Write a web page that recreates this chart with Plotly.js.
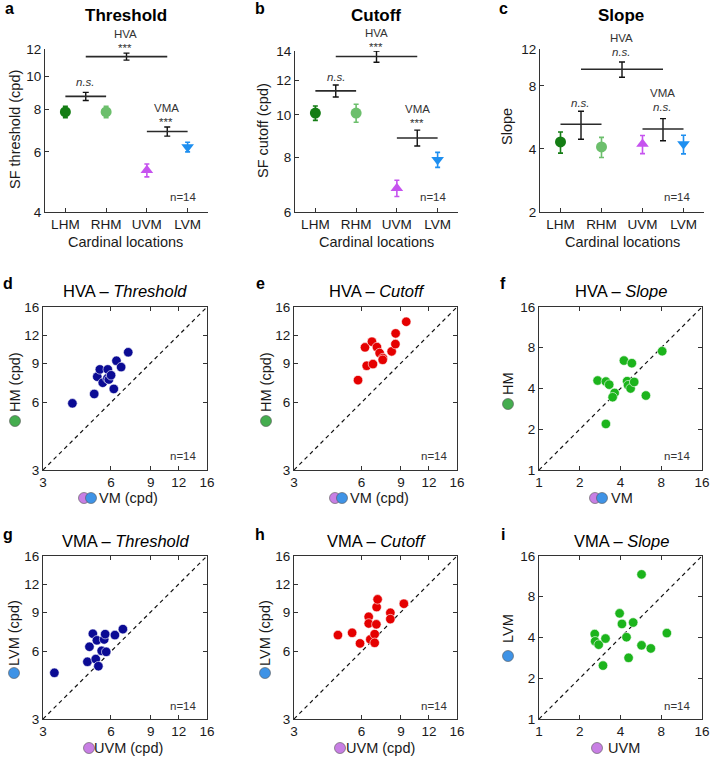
<!DOCTYPE html>
<html><head><meta charset="utf-8">
<script src="https://cdn.plot.ly/plotly-3.0.1.min.js"></script>
<style>html,body{margin:0;padding:0;background:#fff}#chart{width:720px;height:763px}</style>
</head><body><div id="chart"></div>
<script>
// ---------- DATA ----------
const categories = ['LHM', 'RHM', 'UVM', 'LVM'];
const catPos = [1, 2, 3, 4];
const thrMean = [7.85, 7.85, 5.3, 6.2];
const thrErr = [0.3, 0.3, 0.23, 0.2];
const cutMean = [10.1, 10.1, 6.8, 7.9];
const cutErr = [0.38, 0.48, 0.29, 0.31];
const slopeMean = [4.32, 4.09, 4.22, 4.22];
const slopeErr = [0.5, 0.45, 0.42, 0.43];

const cmpLabels = ['HVA', 'HM', 'VMA'];
const cmpX = [2.5, 1.5, 3.5];
const cmpHalfWidth = [1, 0.5, 0.5];
const thrCmp = [11.4, 8.72, 6.88];
const thrCmpErr = [0.27, 0.24, 0.21];
const cutCmp = [13.6, 11.35, 8.86];
const cutCmpErr = [0.4, 0.36, 0.37];
const slopeCmp = [9.6, 5.25, 4.98];
const slopeCmpErr = [0.8, 0.8, 0.6];

const thrTicks = [4, 6, 8, 10, 12];
const cutTicks = [6, 8, 10, 12, 14];
const slopeTicks = [2, 4, 8, 12];
const cpdTicks = [3, 6, 9, 12, 16];
const slopeScatTicks = [1, 2, 4, 8, 16];
const diagCpd = [3, 16];
const diagSlope = [1, 16];

// d: HVA threshold (x = VM, y = HM)
const hvaThrVM = [4.05, 5.06, 5.22, 5.36, 5.52, 5.79, 5.88, 5.81, 6.01, 6.18, 6.35, 6.66, 7.16];
const hvaThrHM = [5.95, 6.55, 7.82, 8.43, 7.35, 7.69, 7.6, 8.43, 7.94, 6.9, 9.21, 8.63, 10.05];
// e: HVA cutoff
const hvaCutVM = [5.79, 6.22, 6.33, 6.68, 6.75, 7.03, 7.23, 7.48, 7.46, 8.18, 8.5, 8.52, 9.5];
const hvaCutHM = [7.55, 10.57, 8.75, 11.2, 8.9, 10.6, 9.97, 9.47, 9.3, 10.14, 10.93, 12.2, 13.75];
// f: HVA slope
const hvaSlopeVM = [2.71, 3.12, 3.3, 3.62, 3.5, 3.12, 4.24, 4.85, 4.48, 4.55, 4.75, 5.05, 6.16, 8.13];
const hvaSlopeHM = [4.58, 4.5, 4.27, 3.71, 3.45, 2.19, 6.43, 6.15, 4.53, 4.23, 4.0, 4.47, 3.55, 7.54];
// g: VMA threshold (x = UVM, y = LVM)
const vmaThrUVM = [3.37, 4.72, 5.14, 5.28, 5.46, 4.82, 4.99, 5.2, 5.6, 5.66, 5.72, 6.25, 6.78];
const vmaThrLVM = [4.82, 5.4, 5.55, 5.16, 6.04, 6.3, 7.2, 6.73, 6.79, 7.17, 5.98, 7.1, 7.55];
// h: VMA cutoff
const vmaCutUVM = [4.71, 5.45, 5.91, 6.46, 6.46, 6.57, 6.87, 6.87, 6.99, 7.01, 7.08, 8.07, 8.07, 9.27];
const vmaCutLVM = [7.1, 7.27, 6.52, 8.57, 8.0, 6.79, 7.17, 6.56, 7.93, 9.47, 10.25, 8.93, 8.37, 9.8];
// i: VMA slope
const vmaSlopeUVM = [2.58, 2.6, 2.76, 3.1, 2.97, 3.94, 4.1, 4.96, 4.43, 4.59, 5.72, 5.72, 6.7, 8.8];
const vmaSlopeLVM = [4.24, 3.75, 3.54, 3.93, 2.48, 6.03, 5.04, 5.16, 4.02, 2.83, 11.7, 3.5, 3.32, 4.31];

// ---------- STYLE / LAYOUT ----------
const FONT = 'Liberation Sans, Arial, Helvetica, sans-serif';
const W = 720, H = 763;
const fx = p => p / W, fy = p => 1 - p / H;
const TXT = '#1a1a1a', AX = '#333333';

const catColors = ['#147d14', '#6cbf6c', '#c653ef', '#1e8ff0'];
const catSymbols = ['circle', 'circle', 'triangle-up', 'triangle-down'];
const navy = '#0b0b94', red = '#e50000', green = '#1cb41c';
const hmCol = '#45ad4f', uvmCol = '#c87fe4', lvmCol = '#3f93e6';

const panels = [
  {x: [45, 208], y: [49, 212]},
  {x: [295, 458], y: [51, 212]},
  {x: [540, 704], y: [49, 212]},
  {x: [43, 207], y: [307, 470]},
  {x: [294, 457], y: [307, 470]},
  {x: [539, 702], y: [307, 470]},
  {x: [43, 207], y: [556, 719]},
  {x: [294, 457], y: [556, 719]},
  {x: [539, 702], y: [556, 719]}
];
const sfx = i => (i === 0 ? '' : String(i + 1));

const layout = {
  width: W, height: H,
  margin: {l: 0, r: 0, t: 0, b: 0},
  paper_bgcolor: '#fff', plot_bgcolor: 'rgba(0,0,0,0)',
  showlegend: false,
  font: {family: FONT, color: TXT, size: 13},
  annotations: [],
  shapes: []
};
const traces = [];

const topY = [thrTicks, cutTicks, slopeTicks];
const scatTicks = [cpdTicks, cpdTicks, slopeScatTicks, cpdTicks, cpdTicks, slopeScatTicks];

panels.forEach((p, i) => {
  const s = sfx(i);
  const xa = {
    domain: [fx(p.x[0]), fx(p.x[1])], anchor: 'y' + s,
    showline: true, linecolor: AX, linewidth: 1, ticks: 'inside', ticklen: 4,
    tickcolor: AX, showgrid: false, zeroline: false,
    tickfont: {size: 13.5, color: TXT, family: FONT}
  };
  const ya = {
    domain: [fy(p.y[1]), fy(p.y[0])], anchor: 'x' + s,
    showline: true, linecolor: AX, linewidth: 1, ticks: 'inside', ticklen: 4,
    tickcolor: AX, showgrid: false, zeroline: false, type: 'log',
    tickfont: {size: 13.5, color: TXT, family: FONT}
  };
  if (i < 3) {
    xa.range = [0.5, 4.5];
    xa.tickvals = catPos;
    xa.ticktext = categories;
    const t = topY[i];
    ya.range = [Math.log10(t[0]), Math.log10(t[t.length - 1])];
    ya.tickvals = t; ya.ticktext = t.map(String);
  } else {
    const t = scatTicks[i - 3];
    xa.type = 'log';
    xa.range = [Math.log10(t[0]), Math.log10(t[t.length - 1])];
    ya.range = xa.range.slice();
    xa.tickvals = t; xa.ticktext = t.map(String);
    ya.tickvals = t; ya.ticktext = t.map(String);
    xa.mirror = 'ticks'; ya.mirror = 'ticks';
  }
  layout['xaxis' + s] = xa;
  layout['yaxis' + s] = ya;
});

// top row
const topData = [
  [thrMean, thrErr, thrCmp, thrCmpErr],
  [cutMean, cutErr, cutCmp, cutCmpErr],
  [slopeMean, slopeErr, slopeCmp, slopeCmpErr]
];
topData.forEach((d, i) => {
  const s = sfx(i);
  categories.forEach((c, k) => {
    traces.push({
      type: 'scatter', mode: 'markers', name: c,
      x: [catPos[k]], y: [d[0][k]], xaxis: 'x' + s, yaxis: 'y' + s,
      marker: {symbol: catSymbols[k], color: catColors[k], size: 11},
      error_y: {type: 'data', array: [d[1][k]], color: catColors[k], thickness: 1.6, width: 2.5},
      cliponaxis: false
    });
  });
  traces.push({
    type: 'scatter', mode: 'markers', name: 'cmp',
    x: cmpX, y: d[2], xaxis: 'x' + s, yaxis: 'y' + s,
    marker: {size: 1, color: 'rgba(0,0,0,0)'},
    error_x: {type: 'data', array: cmpHalfWidth, color: '#2a2a2a', thickness: 1.6, width: 0},
    error_y: {type: 'data', array: d[3], color: '#111', thickness: 1.4, width: 3},
    cliponaxis: false
  });
});

// scatter panels
const scatData = [
  [hvaThrVM, hvaThrHM, navy, diagCpd],
  [hvaCutVM, hvaCutHM, red, diagCpd],
  [hvaSlopeVM, hvaSlopeHM, green, diagSlope],
  [vmaThrUVM, vmaThrLVM, navy, diagCpd],
  [vmaCutUVM, vmaCutLVM, red, diagCpd],
  [vmaSlopeUVM, vmaSlopeLVM, green, diagSlope]
];
scatData.forEach((d, j) => {
  const s = sfx(j + 3);
  traces.push({
    type: 'scatter', mode: 'lines', x: d[3], y: d[3], xaxis: 'x' + s, yaxis: 'y' + s,
    line: {color: '#111', width: 1.2, dash: '4px,3.5px'}, hoverinfo: 'skip'
  });
  traces.push({
    type: 'scatter', mode: 'markers', x: d[0], y: d[1], xaxis: 'x' + s, yaxis: 'y' + s,
    marker: {color: d[2], size: 9.5, line: {color: '#ffffff', width: 0.6}}
  });
});

// ---------- TEXT ----------
const A = layout.annotations;
function txt(x, y, text, opt) {
  A.push(Object.assign({
    xref: 'paper', yref: 'paper', x: fx(x), y: fy(y), text: text, showarrow: false,
    xanchor: 'center', yanchor: 'middle', font: {family: FONT, size: 13, color: TXT}
  }, opt || {}));
}
// legend-like coloured discs next to axis titles (drawn as shapes)
function dot(x, y, color) {
  layout.shapes.push({
    type: 'circle', xref: 'paper', yref: 'paper', xsizemode: 'pixel', ysizemode: 'pixel',
    xanchor: fx(x), yanchor: fy(y), x0: -5.5, x1: 5.5, y0: -5.5, y1: 5.5,
    fillcolor: color, line: {color: '#555', width: 0.6}
  });
}

// panel letters
[['a', 9, 9], ['b', 260, 9], ['c', 503, 9], ['d', 8, 283], ['e', 260, 283], ['f', 503, 283],
 ['g', 8, 534], ['h', 260, 534], ['i', 503, 534]].forEach(l =>
  txt(l[1], l[2], '<b>' + l[0] + '</b>', {font: {family: FONT, size: 16, color: '#000'}}));

// titles
txt(126, 15, '<b>Threshold</b>', {font: {family: FONT, size: 17, color: '#000'}});
txt(376, 15, '<b>Cutoff</b>', {font: {family: FONT, size: 17, color: '#000'}});
txt(621, 15, '<b>Slope</b>', {font: {family: FONT, size: 17, color: '#000'}});
const tRow = [['Threshold', 125], ['Cutoff', 377], ['Slope', 621]];
tRow.forEach(t => {
  txt(t[1], 291, 'HVA – <i>' + t[0] + '</i>', {font: {family: FONT, size: 16.5, color: '#000'}});
  txt(t[1], 541, 'VMA – <i>' + t[0] + '</i>', {font: {family: FONT, size: 16.5, color: '#000'}});
});

// top-row axis titles
txt(15, 130, 'SF threshold (cpd)', {textangle: -90, font: {family: FONT, size: 14.5, color: TXT}});
txt(263, 131, 'SF cutoff (cpd)', {textangle: -90, font: {family: FONT, size: 14.5, color: TXT}});
txt(507, 127, 'Slope', {textangle: -90, font: {family: FONT, size: 14.5, color: TXT}});
[126, 376, 622].forEach(x => txt(x, 242, 'Cardinal locations', {font: {family: FONT, size: 14.5, color: TXT}}));

// comparison labels
const small = {family: FONT, size: 11.5, color: '#333'};
txt(125, 34, 'HVA', {font: small}); txt(125, 48, '***', {font: small});
txt(85, 82, '<i>n.s.</i>', {font: small});
txt(166, 108, 'VMA', {font: small}); txt(166, 122, '***', {font: small});
txt(376, 33, 'HVA', {font: small}); txt(376, 47, '***', {font: small});
txt(336, 77, '<i>n.s.</i>', {font: small});
txt(417, 109, 'VMA', {font: small}); txt(417, 123, '***', {font: small});
txt(621, 38, 'HVA', {font: small}); txt(621, 52, '<i>n.s.</i>', {font: small});
txt(580, 103, '<i>n.s.</i>', {font: small});
txt(662, 93, 'VMA', {font: small}); txt(662, 107, '<i>n.s.</i>', {font: small});

// n=14
const nFont = {family: FONT, size: 11.5, color: '#333'};
[[199, 197], [449, 197], [693, 197], [199, 456], [450, 456], [693, 456], [199, 706], [450, 706], [693, 706]]
  .forEach(n => txt(n[0], n[1], 'n=14', {xanchor: 'right', font: nFont}));

// scatter axis titles
const atF = {family: FONT, size: 14.5, color: TXT};
// row 2 y
txt(15, 382, 'HM (cpd)', {textangle: -90, font: atF}); dot(15, 421, hmCol);
txt(266, 382, 'HM (cpd)', {textangle: -90, font: atF}); dot(266, 421, hmCol);
txt(508, 384, 'HM', {textangle: -90, font: atF}); dot(508, 404, hmCol);
// row 2 x
dot(84, 498, uvmCol); dot(91, 498, lvmCol); txt(128, 498, 'VM (cpd)', {font: atF});
dot(335, 498, uvmCol); dot(342, 498, lvmCol); txt(379, 498, 'VM (cpd)', {font: atF});
dot(595, 498, uvmCol); dot(602, 498, lvmCol); txt(622, 498, 'VM', {font: atF});
// row 3 y
txt(14, 633, 'LVM (cpd)', {textangle: -90, font: atF}); dot(14, 673, lvmCol);
txt(265, 633, 'LVM (cpd)', {textangle: -90, font: atF}); dot(265, 673, lvmCol);
txt(508, 629, 'LVM', {textangle: -90, font: atF}); dot(508, 656, lvmCol);
// row 3 x
dot(89, 748, uvmCol); txt(128, 748, 'UVM (cpd)', {font: atF});
dot(340, 748, uvmCol); txt(380, 748, 'UVM (cpd)', {font: atF});
dot(597, 748, uvmCol); txt(624, 748, 'UVM', {font: atF});

Plotly.newPlot('chart', traces, layout, {displayModeBar: false, staticPlot: true});
</script></body></html>
